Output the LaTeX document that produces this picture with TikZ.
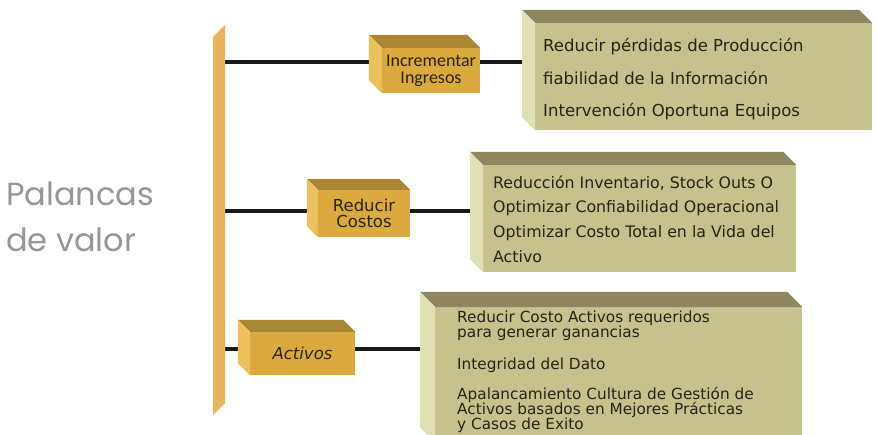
\documentclass[tikz,border=0pt]{standalone}
\usepackage{fontspec}
\setmainfont{DejaVu Sans}
\newfontfamily\carl{Carlito}
\newfontfamily\pop{Poppins}
\definecolor{barc}{RGB}{232,180,94}
\definecolor{goldF}{RGB}{218,170,62}
\definecolor{goldT}{RGB}{168,134,52}
\definecolor{goldL}{RGB}{236,192,92}
\definecolor{khF}{RGB}{198,194,142}
\definecolor{khT}{RGB}{142,134,94}
\definecolor{khL}{RGB}{224,224,180}
\definecolor{txtc}{RGB}{40,34,18}
\definecolor{palc}{RGB}{150,150,150}
\pgfdeclarelayer{bg}
\pgfsetlayers{bg,main}
\newcommand\boxsides[4]{% node, depth, top colour, left colour
  \fill[#3] (#1.north west) -- ++(-#2,-#2) -- ([shift={(-#2,-#2)}]#1.north east) -- (#1.north east) -- cycle;
  \fill[#4] (#1.north west) -- ++(-#2,-#2) -- ([shift={(-#2,-#2)}]#1.south west) -- (#1.south west) -- cycle;}
\tikzset{
  sface/.style={fill=goldF, inner sep=0pt, align=center, text=txtc},
  bface/.style={fill=khF, inner sep=0pt, anchor=north west},
  btxt/.style={anchor=west, inner sep=0pt, text=txtc},
  conn/.style={line width=4pt, black!90},
  pal/.style={anchor=west, inner sep=0pt, text=palc, font=\pop\fontsize{32}{32}\selectfont}
}
\begin{document}
\begin{tikzpicture}[x=1pt,y=-1pt]
\useasboundingbox (0,0) rectangle (877,435);
% vertical bar
\fill[barc] (213,37) -- (225,25) -- (225,403) -- (213,415) -- cycle;
\coordinate (b1) at (225,62);
\coordinate (b2) at (225,211);
\coordinate (b3) at (225,349);
% title
\node[pal] (p1) at (6,194) {Palancas};
\node[pal] (p2) at (6,240) {de valor};
% small boxes
\node[sface, minimum width=98, minimum height=45, font=\carl\fontsize{18}{17}\selectfont] (s1) at (431,70.5) {Incrementar\\Ingresos};
\boxsides{s1}{13}{goldT}{goldL}
\node[sface, minimum width=92, minimum height=47, font=\fontsize{16.5}{16}\selectfont] (s2) at (364,213.5) {Reducir\\Costos};
\boxsides{s2}{11}{goldT}{goldL}
\node[sface, minimum width=105, minimum height=43, font=\itshape\fontsize{16.5}{16}\selectfont] (s3) at (302.5,353.5) {Activos};
\boxsides{s3}{12}{goldT}{goldL}
% big boxes
\node[bface, minimum width=337, minimum height=107] (r1) at (535,23) {};
\boxsides{r1}{13}{khT}{khL}
\node[bface, minimum width=313, minimum height=107] (r2) at (483,165) {};
\boxsides{r2}{13}{khT}{khL}
\node[bface, minimum width=367, minimum height=135] (r3) at (435,307) {};
\boxsides{r3}{15}{khT}{khL}
% texts
\begin{scope}[every node/.append style={btxt, font=\fontsize{16.5}{16.5}\selectfont}]
\node (t11) at (543,47) {Reducir pérdidas de Producción};
\node (t12) at (543,78) {fiabilidad de la Información};
\node (t13) at (543,112) {Intervención Oportuna Equipos};
\end{scope}
\begin{scope}[every node/.append style={btxt, font=\fontsize{15.8}{15.8}\selectfont}]
\node (t21) at (493,183) {Reducción Inventario, Stock Outs O};
\node (t22) at (493,208) {Optimizar Confiabilidad Operacional};
\node (t23) at (493,233) {Optimizar Costo Total en la Vida del};
\node (t24) at (493,257) {Activo};
\end{scope}
\begin{scope}[every node/.append style={btxt, font=\fontsize{15.3}{15.3}\selectfont}]
\node (t31) at (457,318) {Reducir Costo Activos requeridos};
\node (t32) at (457,333) {para generar ganancias};
\node (t33) at (457,365) {Integridad del Dato};
\node (t34) at (457,395) {Apalancamiento Cultura de Gestión de};
\node (t35) at (457,410) {Activos basados en Mejores Prácticas};
\node (t36) at (457,425) {y Casos de Exito};
\end{scope}
% connectors
\begin{pgfonlayer}{bg}
\fill[white] (0,0) rectangle (877,435);
\draw[conn] (b1) -- (b1 -| r1.west);
\draw[conn] (b2) -- (b2 -| r2.west);
\draw[conn] (b3) -- (b3 -| r3.west);
\end{pgfonlayer}
\end{tikzpicture}
\end{document}
